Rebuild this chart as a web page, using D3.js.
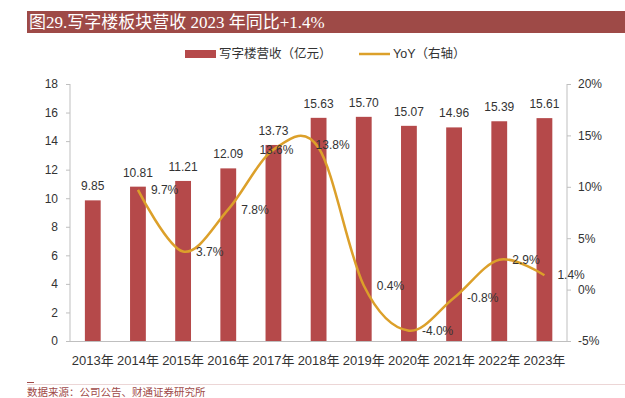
<!DOCTYPE html>
<html><head><meta charset="utf-8">
<script src="https://cdn.jsdelivr.net/npm/d3@7/dist/d3.min.js"></script>
<style>
html,body{margin:0;padding:0;background:#fff;}
svg{display:block;}
</style></head>
<body>
<svg id="c" width="625" height="398"></svg>
<script>
const years = ["2013年","2014年","2015年","2016年","2017年","2018年","2019年","2020年","2021年","2022年","2023年"];
const revenue = [9.85,10.81,11.21,12.09,13.73,15.63,15.70,15.07,14.96,15.39,15.61];
const yoyYears = ["2014年","2015年","2016年","2017年","2018年","2019年","2020年","2021年","2022年","2023年"];
const yoy = [9.7,3.7,7.8,13.6,13.8,0.4,-4.0,-0.8,2.9,1.4];
const leftTicks = [0,2,4,6,8,10,12,14,16,18];
const rightTicks = [-5,0,5,10,15,20];
const titleText = "图29.写字楼板块营收 2023 年同比+1.4%";
const legendLabels = ["写字楼营收（亿元）","YoY（右轴）"];
const sourceText = "数据来源：公司公告、财通证券研究所";

const svg = d3.select("#c");
const latin = "'Liberation Sans', Arial, 'Noto Sans CJK SC', sans-serif";
const barColor = "#b5494a", lineColor = "#dca02a", axisColor = "#bfbfbf", textColor = "#333";

// title bar
svg.append("rect").attr("x",27).attr("y",11).attr("width",598).attr("height",22).attr("fill","#9e4a47");
svg.append("text").attr("x",29).attr("y",28).attr("fill","#fff")
  .style("font-family","'Liberation Serif','Times New Roman','Noto Sans CJK SC',serif").style("font-size","17px")
  .text(titleText);

// legend
const lg = svg.append("g").style("font-family",latin).style("font-size","12.5px").attr("fill",textColor);
lg.append("rect").attr("x",185).attr("y",50).attr("width",31).attr("height",8).attr("fill",barColor);
lg.append("text").attr("x",219).attr("y",54).attr("dy","0.35em").text(legendLabels[0]);
lg.append("line").attr("x1",359).attr("x2",390).attr("y1",54).attr("y2",54).attr("stroke",lineColor).attr("stroke-width",2.5);
lg.append("text").attr("x",393).attr("y",54).attr("dy","0.35em").text(legendLabels[1]);

// scales
const x = d3.scaleBand().domain(years).range([70.2,567]).paddingInner(0.65).paddingOuter(0.325);
const yL = d3.scaleLinear().domain([0,18]).range([341,84]);
const yR = d3.scaleLinear().domain([-5,20]).range([341,84]);
const cx = d => x(d) + x.bandwidth()/2;

// axes
const axL = svg.append("g").attr("transform","translate(70,0)")
  .call(d3.axisLeft(yL).tickValues(leftTicks).tickSize(4).tickPadding(8));
const axR = svg.append("g").attr("transform","translate(567,0)")
  .call(d3.axisRight(yR).tickValues(rightTicks).tickSize(4).tickPadding(7).tickFormat(d => d + "%"));
[axL,axR].forEach(a => {
  a.select(".domain").attr("stroke",axisColor).attr("d","M0,84V341");
  a.selectAll(".tick line").attr("stroke",axisColor);
  a.selectAll(".tick text").attr("fill",textColor).style("font-family",latin).style("font-size","12px");
});
// baseline
svg.append("line").attr("x1",70).attr("x2",567).attr("y1",341.5).attr("y2",341.5).attr("stroke",axisColor);

// bars
svg.append("g").selectAll("rect").data(years).join("rect")
  .attr("x",d => x(d)).attr("width",x.bandwidth())
  .attr("y",(d,i) => yL(revenue[i])).attr("height",(d,i) => yL(0) - yL(revenue[i]))
  .attr("fill",barColor);
svg.append("g").selectAll("text").data(years).join("text")
  .attr("x",d => cx(d)).attr("y",(d,i) => yL(revenue[i]) - 10)
  .attr("text-anchor","middle").attr("fill",textColor)
  .style("font-family",latin).style("font-size","12px")
  .text((d,i) => revenue[i].toFixed(2));

// x labels
svg.append("g").selectAll("text").data(years).join("text")
  .attr("x",d => cx(d)).attr("y",360).attr("dy","0.35em")
  .attr("text-anchor","middle").attr("fill",textColor)
  .style("font-family",latin).style("font-size","13px")
  .text(d => d);

// line
const pts = yoyYears.map((d,i) => [cx(d), yR(yoy[i])]);
svg.append("path").attr("d", d3.line().curve(d3.curveCardinal.tension(0))(pts))
  .attr("fill","none").attr("stroke",lineColor).attr("stroke-width",2.5);

// yoy labels
const labelShift = {"2017年":[-27,0],"2018年":[-16,-3]};
svg.append("g").selectAll("text").data(yoyYears).join("text")
  .attr("x",(d,i) => pts[i][0] + 13 + (labelShift[d] ? labelShift[d][0] : 0))
  .attr("y",(d,i) => pts[i][1] + (labelShift[d] ? labelShift[d][1] : 0))
  .attr("dy","0.35em").attr("fill",textColor)
  .style("font-family",latin).style("font-size","12px")
  .text((d,i) => yoy[i].toFixed(1) + "%");

// footer
svg.append("line").attr("x1",27).attr("x2",625).attr("y1",384.5).attr("y2",384.5).attr("stroke","#ecd6d6");
svg.append("line").attr("x1",27).attr("x2",34).attr("y1",382.5).attr("y2",382.5).attr("stroke","#a04a48");
svg.append("text").attr("x",27).attr("y",396).attr("fill","#a04a48")
  .style("font-family","'Noto Sans CJK SC',sans-serif").style("font-size","10.5px").text(sourceText);
</script>
</body></html>
